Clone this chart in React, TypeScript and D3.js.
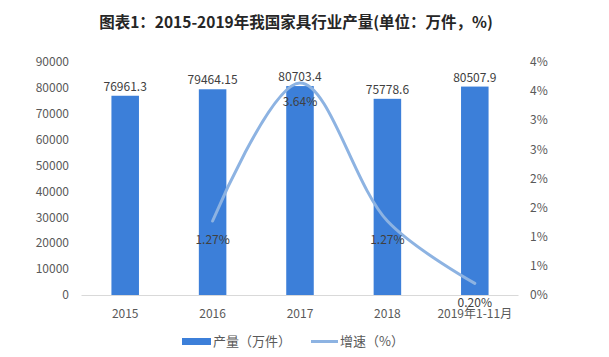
import React from "react";
import * as d3 from "d3";

const categories = ["2015", "2016", "2017", "2018", "2019年1-11月"];
const output = [76961.3, 79464.15, 80703.4, 75778.6, 80507.9];
const outputLabels = ["76961.3", "79464.15", "80703.4", "75778.6", "80507.9"];
const growth: (number | null)[] = [null, 1.27, 3.64, 1.27, 0.2];
const growthLabels = ["", "1.27%", "3.64%", "1.27%", "0.20%"];
const leftTicks = [0, 10000, 20000, 30000, 40000, 50000, 60000, 70000, 80000, 90000];
const rightTicks = [0, 0.5, 1, 1.5, 2, 2.5, 3, 3.5, 4];
const rightTickLabels = ["0%", "1%", "1%", "2%", "2%", "3%", "3%", "4%", "4%"];

const W = 609;
const H = 357;
const FONT = "'Noto Sans CJK SC', 'Noto Sans', sans-serif";
const BAR = "#3c7fd9";
const LINE = "#8db3e2";

export default function App() {
  const x = d3.scaleBand<string>().domain(categories).range([81.5, 518.5]).paddingInner(0.685).paddingOuter(0.3425);
  const yL = d3.scaleLinear().domain([0, 90000]).range([295, 62]);
  const yR = d3.scaleLinear().domain([0, 4]).range([295, 62]);
  const cx = (c: string) => (x(c) as number) + x.bandwidth() / 2;

  const pts = categories
    .map((c, i) => ({ c, v: growth[i] }))
    .filter((d) => d.v !== null) as { c: string; v: number }[];
  const line = d3
    .line<{ c: string; v: number }>()
    .x((d) => cx(d.c))
    .y((d) => yR(d.v))
    .curve(d3.curveCatmullRom.alpha(0.5));

  return (
    <svg width={W} height={H} style={{ position: "absolute", left: 0, top: 0, background: "#fff" }} fontFamily={FONT}>
      <rect x={0} y={0} width={W} height={H} fill="#fff" />
      <text x={296} y={28} textAnchor="middle" fontSize={15.5} fontWeight="bold" fill="#262626">
        图表1：2015-2019年我国家具行业产量(单位：万件，%)
      </text>
      {leftTicks.map((t) => (
        <text key={t} x={69} y={yL(t)} dy="0.35em" textAnchor="end" fontSize={12} fill="#595959">
          {t}
        </text>
      ))}
      {rightTicks.map((t, i) => (
        <text key={t} x={530} y={yR(t)} dy="0.35em" textAnchor="start" fontSize={12} fill="#595959">
          {rightTickLabels[i]}
        </text>
      ))}
      <line x1={81.5} x2={518.5} y1={295.5} y2={295.5} stroke="#d9d9d9" strokeWidth={1} />
      {categories.map((c, i) => (
        <rect key={c} x={x(c)} y={yL(output[i])} width={x.bandwidth()} height={295 - yL(output[i])} fill={BAR} />
      ))}
      {categories.map((c, i) => (
        <text key={c} x={cx(c)} y={yL(output[i]) - 5} textAnchor="middle" fontSize={12} fill="#404040">
          {outputLabels[i]}
        </text>
      ))}
      <path d={line(pts) || ""} fill="none" stroke={LINE} strokeWidth={3} strokeLinecap="round" />
      {categories.map((c, i) =>
        growth[i] === null ? null : (
          <text key={c} x={cx(c)} y={yR(growth[i] as number) + 19} dy="0.35em" textAnchor="middle" fontSize={12} fill="#404040">
            {growthLabels[i]}
          </text>
        )
      )}
      {categories.map((c) => (
        <text key={c} x={cx(c)} y={313.5} dy="0.35em" textAnchor="middle" fontSize={12} fill="#595959">
          {c}
        </text>
      ))}
      <rect x={182} y={338} width={29} height={7} fill={BAR} />
      <text x={213} y={341.5} dy="0.35em" fontSize={13} fill="#595959">产量（万件）</text>
      <line x1={311} x2={338} y1={341.5} y2={341.5} stroke={LINE} strokeWidth={3} />
      <text x={340} y={341.5} dy="0.35em" fontSize={13} fill="#595959">增速（%）</text>
    </svg>
  );
}
